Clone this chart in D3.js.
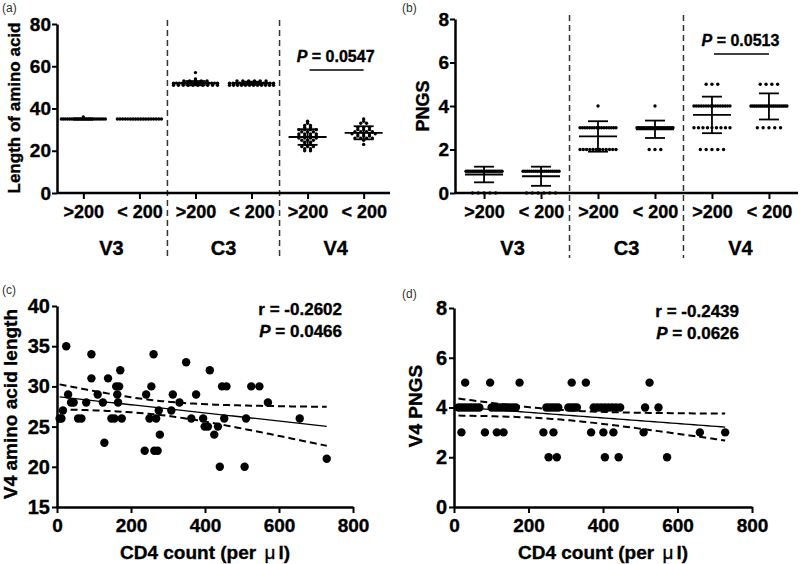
<!DOCTYPE html>
<html>
<head>
<meta charset="utf-8">
<script src="https://cdn.jsdelivr.net/npm/d3@7"></script>
<style>
  body { margin: 0; background: #fff; }
  svg { font-family: "Liberation Sans", Arial, sans-serif; }
  text[font-weight="bold"], .tick text { stroke: #000; stroke-width: 0.35px; }
</style>
</head>
<body>
<svg id="fig" width="800" height="564"></svg>
<script>
// ---- data ----
const groups = ['V3', 'C3', 'V4'];
const cd4Groups = ['>200', '< 200'];
const catKeys = ['V3 >200', 'V3 < 200', 'C3 >200', 'C3 < 200', 'V4 >200', 'V4 < 200'];

// (a) length of amino acid, [value, count]
const lenV3High = [[35, 22], [36, 1]];
const lenV3Low = [[35, 18]];
const lenC3High = [[57, 1], [54, 1], [53, 5], [52, 16], [51, 10]];
const lenC3Low = [[53, 6], [52, 14], [51, 12]];
const lenV4High = [[34, 1], [33, 1], [32, 2], [31, 2], [30, 4], [29, 3], [28, 4], [27, 4], [26, 4], [25, 3], [24, 2], [23, 2], [22, 3], [21, 2], [20, 2]];
const lenV4Low = [[35, 1], [34, 1], [33, 2], [31, 3], [30, 3], [29, 4], [28, 5], [27, 3], [26, 4], [25, 1], [23, 1]];
const lenMean = [35, 35, 52, 52, 26.5, 28.5];
const lenSd = [0.3, 0.1, 1.0, 0.7, 3.7, 3.1];

// (b) PNGS, [value, count]
const pngsV3High = [[1, 24], [0, 5]];
const pngsV3Low = [[1, 18], [0, 6]];
const pngsC3High = [[4, 1], [3, 16], [2, 12]];
const pngsC3Low = [[4, 1], [3, 22], [2, 3]];
const pngsV4High = [[5, 3], [4, 16], [3, 9], [2, 5]];
const pngsV4Low = [[5, 4], [4, 20], [3, 5]];
const pngsMean = [0.85, 0.77, 2.6, 2.93, 3.59, 3.98];
const pngsSd = [0.36, 0.44, 0.7, 0.4, 0.84, 0.6];

// (c) CD4 count vs V4 amino acid length
const cd4C = [7, 12, 16, 25, 30, 38, 45, 57, 66, 79, 93, 93, 110, 124, 128, 138, 147, 155, 160, 163, 165, 168, 171, 175,
  237, 241, 250, 255, 261, 263, 268, 272, 275, 278, 309, 313, 331, 349, 363, 376, 395, 399, 408, 413, 425, 435, 440,
  446, 452, 458, 507, 511, 525, 547, 570, 656, 729];
const lenC = [26, 26, 27, 35, 29, 28, 28, 26, 26, 28, 34, 31, 29, 28, 23, 31, 26, 26, 30, 29, 28, 30, 32, 26,
  22, 29, 26, 30, 34, 22, 26, 22, 27, 24, 27, 29, 28, 33, 26, 29, 26, 25, 25, 32, 24, 25, 20,
  30, 26, 30, 20, 26, 30, 30, 28, 26, 21];

// (d) CD4 count vs V4 PNGS
const cd4D = [30, 97, 176, 316, 354, 525,
  12, 20, 28, 36, 44, 52, 60, 68, 101, 110, 118, 126, 134, 142, 150, 158, 166, 248, 256, 264, 272, 280,
  307, 315, 323, 330, 375, 385, 395, 405, 415, 425, 435, 446, 513, 549,
  20, 83, 115, 133, 240, 267, 368, 401, 428, 509, 660, 728,
  254, 276, 405, 442, 572];
const pngsD = [5, 5, 5, 5, 5, 5,
  4, 4, 4, 4, 4, 4, 4, 4, 4, 4, 4, 4, 4, 4, 4, 4, 4, 4, 4, 4, 4, 4,
  4, 4, 4, 4, 4, 4, 4, 4, 4, 4, 4, 4, 4, 4,
  3, 3, 3, 3, 3, 3, 3, 3, 3, 3, 3, 3,
  2, 2, 2, 2, 2];

const statsC = ['r = -0.2602', '0.0466'];
const statsD = ['r = -0.2439', '0.0626'];

const svg = d3.select('#fig');
const FONT = '"Liberation Sans", Arial, sans-serif';

const styleAxis = (g, size) => {
    g.attr('font-family', FONT).attr('font-size', size).attr('font-weight', 'bold');
    g.select('.domain').attr('stroke', '#000').attr('stroke-width', 2.5);
    g.selectAll('.tick line').attr('stroke', '#000').attr('stroke-width', 2);
    g.selectAll('.tick text').attr('fill', '#000');
};

const panelLabel = (x, y, t) => svg.append('text')
    .attr('x', x).attr('y', y).attr('font-size', 12).attr('fill', '#333').text(t);

const yTitle = (cx, cy, t, size) => svg.append('text')
    .attr('transform', `translate(${cx},${cy}) rotate(-90)`)
    .attr('text-anchor', 'middle').attr('dy', '0.35em')
    .attr('font-size', size).attr('font-weight', 'bold').text(t);

// ---- dot plot panels (a), (b) ----
function dotPanel(o) {
    const x = d3.scalePoint().domain(catKeys).range([o.x0, o.x1]).padding(o.pad);
    const y = d3.scaleLinear().domain(o.yDomain).range([o.yBot, o.yTop]);
    const g = svg.append('g');

    // separators between groups
    [[1, 2], [3, 4]].forEach(([a, b]) => {
        const sx = (x(catKeys[a]) + x(catKeys[b])) / 2;
        g.append('line')
            .attr('x1', sx).attr('x2', sx).attr('y1', o.sepTop).attr('y2', 258)
            .attr('stroke', '#333').attr('stroke-width', 1.5).attr('stroke-dasharray', '6,4');
    });

    // dots, values sharing a row are spread sideways
    const pts = [];
    o.sets.forEach((set, i) => {
        const cx = x(catKeys[i]);
        set.forEach(([v, n]) => {
            const step = n > 1 ? Math.min(5.8, o.maxW / (n - 1)) : 0;
            d3.range(n).forEach(k => pts.push({ x: cx + (k - (n - 1) / 2) * step, v }));
        });
    });
    g.selectAll('.dot').data(pts).enter().append('circle')
        .attr('class', 'dot')
        .attr('cx', d => d.x).attr('cy', d => y(d.v)).attr('r', 1.7).attr('fill', '#000');

    // mean and SD
    catKeys.forEach((k, i) => {
        const cx = x(k), m = o.mean[i], s = o.sd[i];
        const seg = (x1, y1, x2, y2) => g.append('line')
            .attr('x1', x1).attr('y1', y1).attr('x2', x2).attr('y2', y2)
            .attr('stroke', '#000').attr('stroke-width', 1.8);
        seg(cx - 19, y(m), cx + 19, y(m));
        seg(cx, y(m - s), cx, y(m + s));
        seg(cx - 10, y(m - s), cx + 10, y(m - s));
        seg(cx - 10, y(m + s), cx + 10, y(m + s));
    });

    const xa = g.append('g').attr('transform', `translate(0,${o.yBot})`)
        .call(d3.axisBottom(x).tickSize(6).tickSizeOuter(0).tickPadding(6).tickFormat(k => k.split(' ').slice(1).join(' ')));
    styleAxis(xa, 18);
    xa.select('.domain').attr('d', `M${o.x0},0H${o.x1}`);

    const ya = g.append('g').attr('transform', `translate(${o.x0},0)`)
        .call(d3.axisLeft(y).tickValues(o.yTicks).tickSize(5).tickSizeOuter(0).tickPadding(1));
    styleAxis(ya, 19);

    groups.forEach((gr, i) => {
        g.append('text')
            .attr('x', (x(catKeys[2 * i]) + x(catKeys[2 * i + 1])) / 2).attr('y', 255)
            .attr('text-anchor', 'middle').attr('font-size', 20).attr('font-weight', 'bold').text(gr);
    });

    // significance bar over V4
    const p1 = x(catKeys[4]), p2 = x(catKeys[5]);
    g.append('line').attr('x1', p1 + 2).attr('x2', p2).attr('y1', y(o.barAt)).attr('y2', y(o.barAt))
        .attr('stroke', '#000').attr('stroke-width', 1.5);
    const pt = g.append('text').attr('x', (p1 + p2) / 2).attr('y', y(o.barAt) - 8)
        .attr('text-anchor', 'middle').attr('font-size', 16).attr('font-weight', 'bold');
    pt.append('tspan').attr('font-style', 'italic').text('P');
    pt.append('tspan').text(' = ' + o.pText);
}

dotPanel({
    x0: 57, x1: 390, pad: 0.47, yTop: 24, yBot: 193, sepTop: 20,
    yDomain: [0, 80], yTicks: [0, 20, 40, 60, 80], maxW: 44,
    sets: [lenV3High, lenV3Low, lenC3High, lenC3Low, lenV4High, lenV4Low],
    mean: lenMean, sd: lenSd, barAt: 58.2, pText: '0.0547'
});
dotPanel({
    x0: 455, x1: 798, pad: 0.51, yTop: 19, yBot: 193, sepTop: 15,
    yDomain: [0, 8], yTicks: [0, 2, 4, 6, 8], maxW: 36,
    sets: [pngsV3High, pngsV3Low, pngsC3High, pngsC3Low, pngsV4High, pngsV4Low],
    mean: pngsMean, sd: pngsSd, barAt: 6.39, pText: '0.0513'
});

// ---- scatter + regression panels (c), (d) ----
function fitBand(xs, ys, tq) {
    const n = xs.length, mx = d3.mean(xs), my = d3.mean(ys);
    const sxx = d3.sum(xs, v => (v - mx) ** 2);
    const sxy = d3.sum(xs, (v, i) => (v - mx) * (ys[i] - my));
    const b = sxy / sxx, a = my - b * mx;
    const se = Math.sqrt(d3.sum(xs, (v, i) => (ys[i] - a - b * v) ** 2) / (n - 2));
    const [lo, hi] = d3.extent(xs);
    return d3.range(61).map(i => {
        const x0 = lo + i * (hi - lo) / 60, yh = a + b * x0;
        const h = tq * se * Math.sqrt(1 / n + (x0 - mx) ** 2 / sxx);
        return { x: x0, y: yh, lo: yh - h, hi: yh + h };
    });
}

function scatterPanel(o) {
    const x = d3.scaleLinear().domain([0, 800]).range([o.x0, o.x1]);
    const y = d3.scaleLinear().domain(o.yDomain).range([o.yBot, o.yTop]);
    const g = svg.append('g');

    g.selectAll('.pt').data(o.xs).enter().append('circle')
        .attr('class', 'pt')
        .attr('cx', d => x(d)).attr('cy', (d, i) => y(o.ys[i])).attr('r', 4.2).attr('fill', '#000');

    const band = fitBand(o.xs, o.ys, 2.005);
    const line = key => d3.line().x(d => x(d.x)).y(d => y(d[key]))(band);
    g.append('path').attr('d', line('y')).attr('fill', 'none').attr('stroke', '#000').attr('stroke-width', 1.3);
    ['lo', 'hi'].forEach(k => g.append('path').attr('d', line(k)).attr('fill', 'none')
        .attr('stroke', '#000').attr('stroke-width', 2).attr('stroke-dasharray', '7,4'));

    const xa = g.append('g').attr('transform', `translate(0,${o.yBot})`)
        .call(d3.axisBottom(x).tickValues([0, 200, 400, 600, 800]).tickSize(6).tickSizeOuter(0).tickPadding(6));
    styleAxis(xa, 19);
    const ya = g.append('g').attr('transform', `translate(${o.x0},0)`)
        .call(d3.axisLeft(y).tickValues(o.yTicks).tickSize(5).tickSizeOuter(0).tickPadding(2));
    styleAxis(ya, 20);

    const xt = g.append('text').attr('x', (o.x0 + o.x1) / 2).attr('y', o.yBot + 52)
        .attr('text-anchor', 'middle').attr('font-size', 19).attr('font-weight', 'bold');
    xt.append('tspan').text('CD4 count (per ');
    xt.append('tspan').attr('font-weight', 'normal').attr('dx', 3).text('μ');
    xt.append('tspan').attr('dx', 3).text('l)');

    g.append('text').attr('x', o.x0 + 285).attr('y', o.yTop + 9)
        .attr('text-anchor', 'end').attr('font-size', 17).attr('font-weight', 'bold').text(o.stats[0]);
    const pt = g.append('text').attr('x', o.x0 + 285).attr('y', o.yTop + 31)
        .attr('text-anchor', 'end').attr('font-size', 17).attr('font-weight', 'bold');
    pt.append('tspan').attr('font-style', 'italic').text('P');
    pt.append('tspan').text(' = ' + o.stats[1]);
}

scatterPanel({
    x0: 57, x1: 353, yTop: 306, yBot: 507, yDomain: [15, 40], yTicks: [15, 20, 25, 30, 35, 40],
    xs: cd4C, ys: lenC, stats: statsC
});
scatterPanel({
    x0: 454, x1: 752, yTop: 308, yBot: 507, yDomain: [0, 8], yTicks: [0, 2, 4, 6, 8],
    xs: cd4D, ys: pngsD, stats: statsD
});

// titles and panel letters
yTitle(14, 108, 'Length of amino acid', 17);
yTitle(423, 106, 'PNGS', 18);
yTitle(10, 404, 'V4 amino acid length', 19);
yTitle(415, 406, 'V4 PNGS', 19);
panelLabel(2, 12, '(a)');
panelLabel(402, 12, '(b)');
panelLabel(2, 294, '(c)');
panelLabel(402, 298, '(d)');
</script>
</body>
</html>
